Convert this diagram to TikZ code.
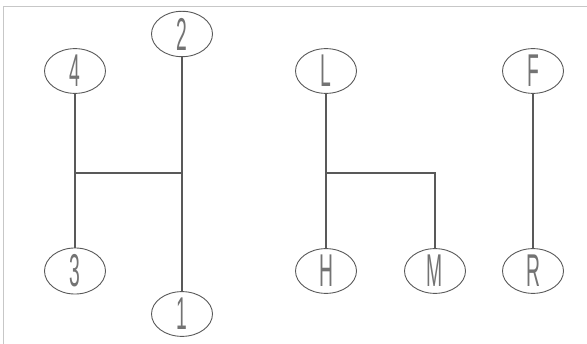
\documentclass[tikz,border=0pt]{standalone}
\usepackage{fontspec}
\setmainfont{Liberation Sans}
\usetikzlibrary{shapes.geometric, positioning}

\begin{document}
\begin{tikzpicture}[
        x=1pt, y=-1pt,
        % Styles
        knob/.style={draw=black!65, ellipse, line width=0.9pt, minimum width=61pt, minimum height=38pt, inner sep=0pt, text=black!55, font=\fontsize{46}{46}\selectfont},
        rod/.style={draw=black!65, line width=1.2pt}
    ]
    \newcommand{\gl}[1]{\scalebox{0.42}[1]{#1}}

    % Frame
    \useasboundingbox (0,0) rectangle (587,344);
    \draw[black!22, line width=1pt] (3,344) -- (3,7) -- (587,7);

    % Gear knobs (left H)
    \node[knob] (n2) at (182,34) {\gl{2}};
    \node[knob] (n4) at (75,71) {\gl{4}};
    \node[knob] (n3) at (75,271) {\gl{3}};
    \node[knob] (n1) at (182,314) {\gl{1}};

    % Range knobs (right)
    \node[knob] (nL) at (326,71) {\gl{L}};
    \node[knob] (nH) at (326,271) {\gl{H}};
    \node[knob] (nM) at (435,271) {\gl{M}};
    \node[knob] (nF) at (533,71) {\gl{F}};
    \node[knob] (nR) at (533,271) {\gl{R}};

    % Gate
    \coordinate (gate) at (0,173);

    \draw[rod] (n4) -- (n3);
    \draw[rod] (n2) -- (n1);
    \draw[rod] (n4 |- gate) -- (n2 |- gate);

    \draw[rod] (nL) -- (nH);
    \draw[rod] (nL |- gate) -| (nM);
    \draw[rod] (nF) -- (nR);

\end{tikzpicture}
\end{document}
